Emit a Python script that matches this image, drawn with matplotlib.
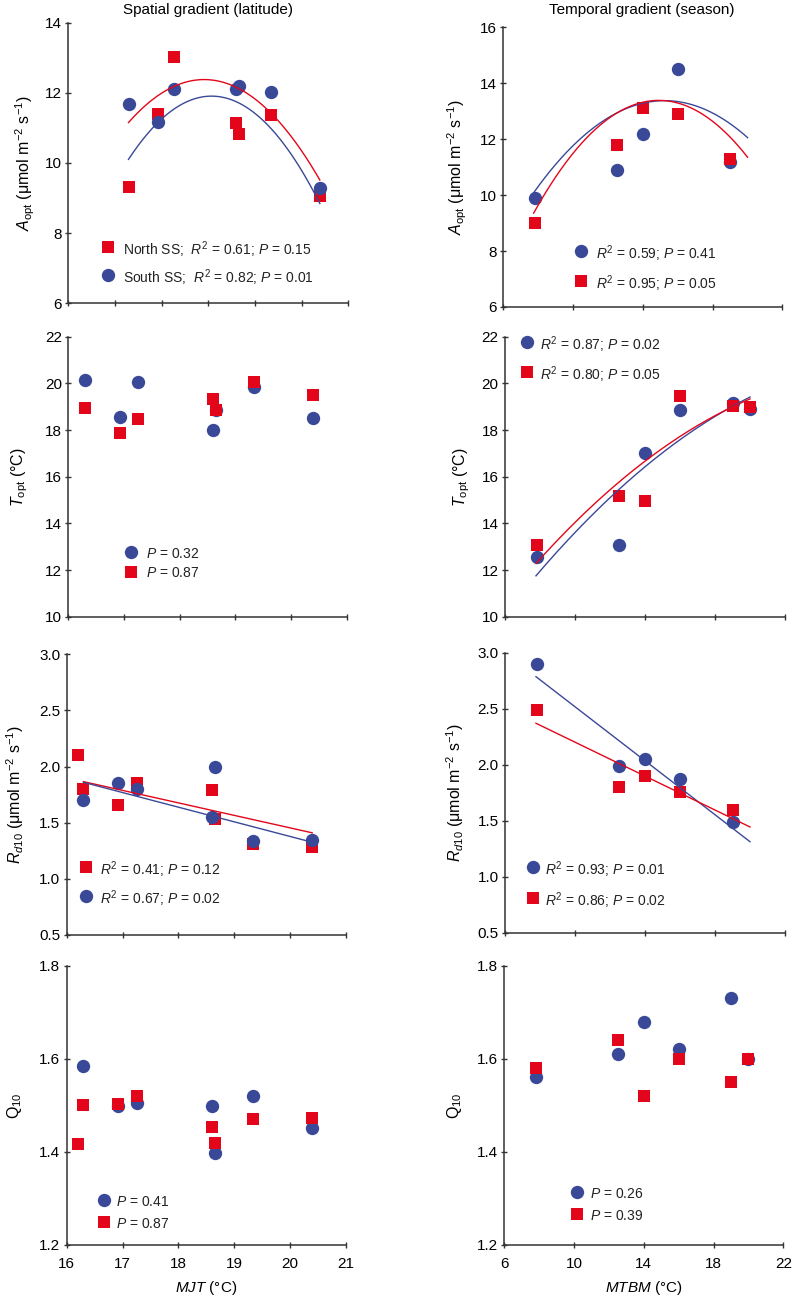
import matplotlib
matplotlib.use('Agg')
import matplotlib.pyplot as plt
import numpy as np

plt.rcParams['font.family'] = ['Liberation Sans', 'DejaVu Sans']
plt.rcParams['mathtext.fontset'] = 'custom'
plt.rcParams['mathtext.rm'] = 'Liberation Sans'
plt.rcParams['mathtext.it'] = 'Liberation Sans:italic'
plt.rcParams['mathtext.bf'] = 'Liberation Sans:bold'

RED = '#E3061A'
BLUE = '#3A4898'
AXC = '#333333'

# ---------------- data ----------------
# Spatial gradient (MJT, degC)
mjt7 = [16.3, 16.92, 17.26, 18.6, 18.65, 19.34, 20.4]
mjt8 = [16.2, 16.3, 16.92, 17.26, 18.6, 18.65, 19.34, 20.4]

aopt_s_red = [9.32, 11.4, 13.02, 11.14, 10.84, 11.36, 9.05]
aopt_s_blue = [11.68, 11.18, 12.11, 12.1, 12.2, 12.01, 9.28]
aopt_s_fit_red_x = [16.29, 17.91, 19.32, 20.39]
aopt_s_fit_red_y = [11.15, 12.39, 11.44, 9.52]
aopt_s_fit_blue_x = [16.29, 18.04, 19.32, 20.39]
aopt_s_fit_blue_y = [10.1, 11.92, 11.0, 8.85]

topt_s_blue = [20.16, 18.57, 20.06, 18.0, 18.86, 19.83, 18.5]
topt_s_red = [18.94, 17.89, 18.47, 19.31, 18.86, 20.06, 19.5]

rd_s_red = [2.1, 1.8, 1.66, 1.85, 1.79, 1.53, 1.31, 1.28]
rd_s_blue = [1.7, 1.855, 1.8, 1.555, 2.0, 1.34, 1.35]
rd_s_fit_x = [16.3, 20.4]
rd_s_fit_red = [1.866, 1.41]
rd_s_fit_blue = [1.86, 1.326]

q_s_red = [1.418, 1.5, 1.503, 1.521, 1.453, 1.419, 1.471, 1.473]
q_s_blue = [1.585, 1.499, 1.506, 1.499, 1.397, 1.521, 1.451]

# Temporal gradient (MTBM, degC)
mtbm5 = [7.8, 12.5, 14, 16, 19]
mtbm6 = [7.8, 12.5, 14, 16, 19, 20]

aopt_t_blue = [9.9, 10.9, 12.2, 14.5, 11.2]
aopt_t_red = [9.0, 11.8, 13.1, 12.9, 11.3]
aopt_t_fit_red_x = [7.74, 12.46, 14.98, 20.01]
aopt_t_fit_red_y = [9.37, 12.85, 13.45, 11.34]
aopt_t_fit_blue_x = [7.74, 12.46, 15.17, 20.01]
aopt_t_fit_blue_y = [10.09, 12.9, 13.4, 12.05]

topt_t_blue = [12.56, 13.06, 17.0, 18.86, 19.16, 18.89]
topt_t_red = [13.06, 15.17, 14.97, 19.46, 19.03, 18.97]
topt_t_fit_x = [7.77, 12.38, 14.0, 16.0, 20.0]
topt_t_fit_red = [12.31, 15.57, 16.69, 17.82, 19.3]
topt_t_fit_blue = [11.79, 15.21, 16.46, 17.71, 19.37]

rd_t_blue = [2.9, 1.99, 2.05, 1.87, 1.49]
rd_t_red = [2.49, 1.80, 1.90, 1.756, 1.60]
rd_t_fit_x = [7.77, 20.0]
rd_t_fit_blue = [2.786, 1.3125]
rd_t_fit_red = [2.37, 1.444]

q_t_blue = [1.56, 1.61, 1.68, 1.62, 1.73, 1.6]
q_t_red = [1.58, 1.64, 1.52, 1.6, 1.55, 1.6]

# ---------------- figure ----------------
W, H = 793, 1298
fig = plt.figure(figsize=(W / 100, H / 100), dpi=100)


def add_ax(l, r, t, b):
    return fig.add_axes([l / W, 1 - b / H, (r - l) / W, (b - t) / H])


def style(ax, xlim, xticks, ylim, yticks, yfmt=None, xlabels=False):
    ax.set_xlim(*xlim)
    ax.set_ylim(*ylim)
    ax.set_xticks(xticks)
    ax.set_yticks(yticks)
    for s in ['top', 'right']:
        ax.spines[s].set_visible(False)
    for s in ['left', 'bottom']:
        ax.spines[s].set_color(AXC)
        ax.spines[s].set_linewidth(1.1)
    ax.tick_params(direction='inout', length=5, width=1.0, color=AXC,
                   labelsize=11)
    ax.tick_params(axis='y', pad=2)
    ax.tick_params(axis='x', pad=6)
    if yfmt:
        ax.set_yticklabels([yfmt % v for v in yticks])
    if not xlabels:
        ax.set_xticklabels([])
    for sp in ax.spines.values():
        sp.set_clip_on(False)


def pts(ax, x, y, kind, z):
    if kind == 'r':
        ax.plot(x, y, ls='none', marker='s', ms=8.8, color=RED, mec=RED,
                mew=0, zorder=z, clip_on=False)
    else:
        ax.plot(x, y, ls='none', marker='o', ms=9.6, color=BLUE, mec=BLUE,
                mew=0, zorder=z, clip_on=False)


def quad_curve(ax, xs, ys, color, x0, x1):
    c = np.polyfit(xs, ys, 2)
    xx = np.linspace(x0, x1, 200)
    ax.plot(xx, np.polyval(c, xx), color=color, lw=1.0, zorder=5)


def leg(px, py, kind, txt, tx):
    if kind == 'r':
        fig.lines.append(plt.Line2D([px / W], [1 - py / H], ls='none', marker='s',
                                    ms=8.8, color=RED, mew=0,
                                    transform=fig.transFigure))
    else:
        fig.lines.append(plt.Line2D([px / W], [1 - py / H], ls='none', marker='o',
                                    ms=9.6, color=BLUE, mew=0,
                                    transform=fig.transFigure))
    fig.text(tx / W, 1 - py / H, txt, fontsize=10, va='center_baseline',
             ha='left', color='#222222')


def ylab(ax, txt, px, l, r):
    ax.set_ylabel(txt, fontsize=11.5, va='center', rotation_mode='anchor')
    ax.yaxis.set_label_coords((px - l) / (r - l), 0.5)


# ---- Panel 1: Aopt spatial
L1 = (68.3, 348.3, 22.7, 303.3)
ax1 = add_ax(*L1)
style(ax1, (15, 21), range(15, 22), (6, 14), range(6, 15, 2))
pts(ax1, mjt7, aopt_s_red, 'r', 3)
pts(ax1, mjt7, aopt_s_blue, 'b', 4)
quad_curve(ax1, aopt_s_fit_red_x, aopt_s_fit_red_y, RED, 16.29, 20.39)
quad_curve(ax1, aopt_s_fit_blue_x, aopt_s_fit_blue_y, BLUE, 16.29, 20.39)
ylab(ax1, r'$A_{\rm opt}$ ($\mathrm{\mu}$mol m$^{-2}$ s$^{-1}$)', 25, L1[0], L1[1])
leg(108, 247, 'r', r'North SS;  $R^2$ = 0.61; $P$ = 0.15', 123)
leg(108, 275, 'b', r'South SS;  $R^2$ = 0.82; $P$ = 0.01', 123)

# ---- Panel 2: Aopt temporal
L2 = (503.3, 782.3, 27.3, 307)
ax2 = add_ax(*L2)
style(ax2, (6, 22), range(6, 23, 4), (6, 16), range(6, 17, 2))
pts(ax2, mtbm5, aopt_t_blue, 'b', 3)
pts(ax2, mtbm5, aopt_t_red, 'r', 4)
quad_curve(ax2, aopt_t_fit_blue_x, aopt_t_fit_blue_y, BLUE, 7.74, 20.01)
quad_curve(ax2, aopt_t_fit_red_x, aopt_t_fit_red_y, RED, 7.74, 20.01)
ylab(ax2, r'$A_{\rm opt}$ ($\mathrm{\mu}$mol m$^{-2}$ s$^{-1}$)', 457, L2[0], L2[1])
leg(581, 251, 'b', r'$R^2$ = 0.59; $P$ = 0.41', 596)
leg(581, 281, 'r', r'$R^2$ = 0.95; $P$ = 0.05', 596)

# ---- Panel 3: Topt spatial
L3 = (68.3, 346.7, 336.7, 616.7)
ax3 = add_ax(*L3)
style(ax3, (16, 21), range(16, 22), (10, 22), range(10, 23, 2))
pts(ax3, mjt7, topt_s_blue, 'b', 3)
pts(ax3, mjt7, topt_s_red, 'r', 4)
ylab(ax3, r'$T_{\rm opt}$ (°C)', 20, L3[0], L3[1])
leg(131, 552, 'b', r'$P$ = 0.32', 146)
leg(131, 572, 'r', r'$P$ = 0.87', 146)

# ---- Panel 4: Topt temporal
L4 = (505, 785, 336.7, 616.7)
ax4 = add_ax(*L4)
style(ax4, (6, 22), range(6, 23, 4), (10, 22), range(10, 23, 2))
pts(ax4, mtbm6, topt_t_blue, 'b', 3)
pts(ax4, mtbm6, topt_t_red, 'r', 4)
quad_curve(ax4, topt_t_fit_x, topt_t_fit_blue, BLUE, 7.77, 20.0)
quad_curve(ax4, topt_t_fit_x, topt_t_fit_red, RED, 7.77, 20.0)
ylab(ax4, r'$T_{\rm opt}$ (°C)', 462, L4[0], L4[1])
leg(527, 342, 'b', r'$R^2$ = 0.87; $P$ = 0.02', 540)
leg(527, 372, 'r', r'$R^2$ = 0.80; $P$ = 0.05', 540)

# ---- Panel 5: Rd10 spatial
L5 = (66.7, 345.7, 654.3, 935)
ax5 = add_ax(*L5)
style(ax5, (16, 21), range(16, 22), (0.5, 3.0), [0.5, 1.0, 1.5, 2.0, 2.5, 3.0], '%.1f')
pts(ax5, mjt8, rd_s_red, 'r', 3)
pts(ax5, mjt7, rd_s_blue, 'b', 4)
ax5.plot(rd_s_fit_x, rd_s_fit_red, color=RED, lw=1.0, zorder=5)
ax5.plot(rd_s_fit_x, rd_s_fit_blue, color=BLUE, lw=1.0, zorder=5)
ylab(ax5, r'$R_{d10}$ ($\mathrm{\mu}$mol m$^{-2}$ s$^{-1}$)', 15, L5[0], L5[1])
leg(86, 867, 'r', r'$R^2$ = 0.41; $P$ = 0.12', 100)
leg(86, 896, 'b', r'$R^2$ = 0.67; $P$ = 0.02', 100)

# ---- Panel 6: Rd10 temporal
L6 = (505, 785, 652.7, 932.7)
ax6 = add_ax(*L6)
style(ax6, (6, 22), range(6, 23, 4), (0.5, 3.0), [0.5, 1.0, 1.5, 2.0, 2.5, 3.0], '%.1f')
pts(ax6, mtbm5, rd_t_red, 'r', 3)
pts(ax6, mtbm5, rd_t_blue, 'b', 4)
ax6.plot(rd_t_fit_x, rd_t_fit_blue, color=BLUE, lw=1.0, zorder=5)
ax6.plot(rd_t_fit_x, rd_t_fit_red, color=RED, lw=1.0, zorder=5)
ylab(ax6, r'$R_{d10}$ ($\mathrm{\mu}$mol m$^{-2}$ s$^{-1}$)', 455, L6[0], L6[1])
leg(533, 867, 'b', r'$R^2$ = 0.93; $P$ = 0.01', 545)
leg(533, 898, 'r', r'$R^2$ = 0.86; $P$ = 0.02', 545)

# ---- Panel 7: Q10 spatial
L7 = (66.7, 345.7, 965.7, 1245)
ax7 = add_ax(*L7)
style(ax7, (16, 21), range(16, 22), (1.2, 1.8), [1.2, 1.4, 1.6, 1.8], '%.1f', xlabels=True)
pts(ax7, mjt7, q_s_blue, 'b', 3)
pts(ax7, mjt8, q_s_red, 'r', 4)
ylab(ax7, r'$\mathrm{Q}_{10}$', 14, L7[0], L7[1])
ax7.set_xlabel(r'$MJT$ (°C)', fontsize=11, labelpad=6)
leg(104, 1200, 'b', r'$P$ = 0.41', 116)
leg(104, 1222, 'r', r'$P$ = 0.87', 116)

# ---- Panel 8: Q10 temporal
L8 = (504.3, 783.3, 965.7, 1245)
ax8 = add_ax(*L8)
style(ax8, (6, 22), range(6, 23, 4), (1.2, 1.8), [1.2, 1.4, 1.6, 1.8], '%.1f', xlabels=True)
pts(ax8, mtbm6, q_t_blue, 'b', 3)
pts(ax8, mtbm6, q_t_red, 'r', 4)
ylab(ax8, r'$\mathrm{Q}_{10}$', 454, L8[0], L8[1])
ax8.set_xlabel(r'$MTBM$ (°C)', fontsize=11, labelpad=6)
leg(577, 1192, 'b', r'$P$ = 0.26', 590)
leg(577, 1214, 'r', r'$P$ = 0.39', 590)

# titles
fig.text(208 / W, 1 - 10 / H, 'Spatial gradient (latitude)', ha='center', va='center', fontsize=11)
fig.text(642 / W, 1 - 10 / H, 'Temporal gradient (season)', ha='center', va='center', fontsize=11)

fig.savefig('out.png', dpi=100)
